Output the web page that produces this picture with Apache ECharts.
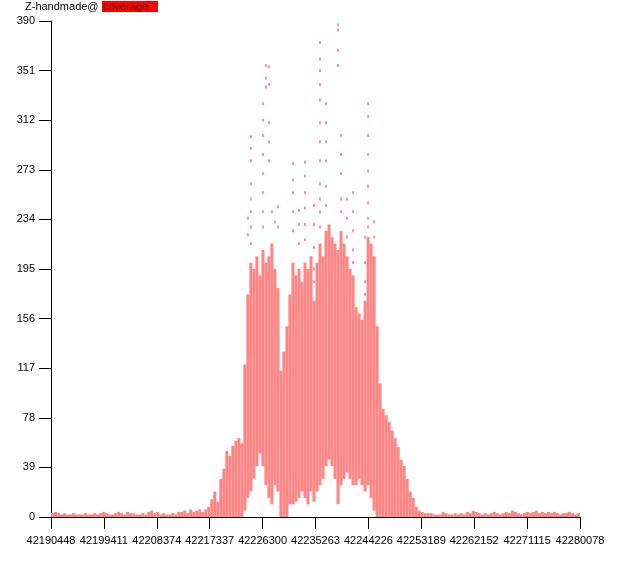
<!DOCTYPE html>
<html>
<head>
<meta charset="utf-8">
<script src="https://cdn.jsdelivr.net/npm/echarts@6/dist/echarts.min.js"></script>
<style>
  html, body { margin: 0; padding: 0; background: #fff; }
  #chart { width: 623px; height: 567px; }
</style>
</head>
<body>
<div id="chart"></div>
<script>
// genomic window shown on the x axis
const START = 42190448;
const END = 42280078;
const STEP = 8963;

// coverage per bin (176 bins across the window): top and bottom of the dense streaks
const covHigh = [
  3, 4, 3, 2, 3, 2, 2, 3, 2, 2,
  2, 3, 2, 2, 3, 2, 3, 4, 3, 2,
  2, 3, 4, 3, 2, 4, 3, 3, 2, 2,
  3, 2, 4, 5, 3, 4, 2, 3, 2, 2,
  3, 2, 4, 4, 5, 3, 6, 4, 5, 6,
  4, 6, 8, 14, 20, 12, 30, 38, 52, 48,
  56, 60, 62, 58, 120, 175, 200, 195, 205, 190,
  210, 200, 205, 215, 195, 180, 115, 130, 150, 175,
  200, 190, 195, 185, 200, 195, 205, 170, 200, 215,
  205, 225, 230, 220, 215, 210, 225, 215, 205, 195,
  190, 165, 160, 155, 170, 220, 215, 205, 150, 105,
  85, 80, 75, 68, 62, 55, 45, 40, 30, 20,
  15, 8, 5, 4, 3, 3,
  3, 2, 2, 2, 4, 3, 2, 2, 3, 2,
  3, 2, 4, 3, 5, 4, 3, 2, 3, 2,
  3, 4, 3, 2, 3, 4, 3, 5, 4, 3,
  2, 3, 4, 3, 4, 5, 3, 4, 3, 4,
  3, 4, 3, 2, 3, 3, 4, 3, 2, 3
];
const covLow = [
  0, 0, 0, 0, 0, 0, 0, 0, 0, 0,
  0, 0, 0, 0, 0, 0, 0, 0, 0, 0,
  0, 0, 0, 0, 0, 0, 0, 0, 0, 0,
  0, 0, 0, 0, 0, 0, 0, 0, 0, 0,
  0, 0, 0, 0, 0, 0, 0, 0, 0, 0,
  0, 0, 0, 0, 0, 0, 0, 0, 0, 0,
  0, 0, 0, 0, 5, 15, 20, 30, 40, 50,
  40, 25, 15, 10, 25, 20, 0, 0, 0, 10,
  10, 12, 15, 20, 15, 10, 20, 12, 20, 25,
  30, 40, 45, 40, 30, 10, 25, 30, 35, 30,
  25, 25, 30, 25, 20, 25, 15, 5, 0, 0,
  0, 0, 0, 0, 0, 0, 0, 0, 0, 0,
  0, 0, 0, 0, 0, 0,
  0, 0, 0, 0, 0, 0, 0, 0, 0, 0,
  0, 0, 0, 0, 0, 0, 0, 0, 0, 0,
  0, 0, 0, 0, 0, 0, 0, 0, 0, 0,
  0, 0, 0, 0, 0, 0, 0, 0, 0, 0,
  0, 0, 0, 0, 0, 0, 0, 0, 0, 0
];

// isolated high reads above the dense area: [bin, coverage]
const sparseDots = [
  [65, 235], [65, 222],
  [66, 299], [66, 290], [66, 280], [66, 262], [66, 250], [66, 240], [66, 228], [66, 215],
  [70, 325], [70, 312], [70, 300], [70, 285], [70, 270], [70, 255], [70, 240], [70, 228],
  [71, 355], [71, 345], [71, 338],
  [72, 354], [72, 340], [72, 310], [72, 295], [72, 280],
  [73, 240], [74, 232], [75, 244], [75, 228],
  [80, 278], [80, 265], [80, 255], [80, 240], [80, 225],
  [82, 241], [82, 230], [82, 215],
  [84, 279], [84, 268], [84, 255], [84, 243], [84, 230], [84, 218],
  [87, 245], [87, 230], [87, 212], [87, 195], [87, 185],
  [89, 373], [89, 360], [89, 351], [89, 340], [89, 328], [89, 310], [89, 295],
  [89, 280], [89, 262], [89, 250], [89, 240], [89, 228],
  [91, 325], [91, 310], [91, 295], [91, 280], [91, 260], [91, 245],
  [95, 387], [95, 383], [95, 367], [95, 355],
  [96, 300], [96, 285], [96, 270], [96, 250], [96, 240],
  [98, 250], [98, 235], [98, 220],
  [100, 255], [100, 240], [100, 225], [100, 210], [100, 200],
  [104, 220], [104, 200], [104, 185], [104, 175],
  [105, 325], [105, 315], [105, 300], [105, 285], [105, 272], [105, 260],
  [105, 247], [105, 235], [105, 228],
  [107, 232], [107, 220]
];

const bins = covHigh.map((_, i) => i);
const covSpan = covHigh.map((h, i) => h - covLow[i]);

const FONT = 'Liberation Sans';
const chart = echarts.init(document.getElementById('chart'));

chart.setOption({
  animation: false,
  backgroundColor: '#ffffff',
  textStyle: { fontFamily: FONT },
  title: {
    text: 'Z-handmade@',
    left: 25,
    top: 1,
    padding: 0,
    textStyle: { fontFamily: FONT, fontSize: 11, fontWeight: 'normal', color: '#000' }
  },
  graphic: [
    {
      type: 'rect',
      left: 102,
      top: 1,
      shape: { width: 56, height: 11 },
      style: { fill: '#ff0000' }
    },
    {
      type: 'text',
      left: 103,
      top: 1,
      style: { text: 'coverage', fill: '#600000', font: '11px "Liberation Sans"' }
    }
  ],
  grid: { left: 51, right: 43, top: 21, bottom: 50 },
  xAxis: [
    {
      type: 'category',
      data: bins,
      show: false,
      boundaryGap: true
    },
    {
      type: 'value',
      min: 0,
      max: END - START,
      interval: STEP,
      position: 'bottom',
      axisLine: { show: true, lineStyle: { color: '#000', width: 1 } },
      axisTick: { show: true, length: 12, lineStyle: { color: '#000' } },
      axisLabel: {
        margin: 18,
        color: '#000',
        fontSize: 11,
        fontFamily: FONT,
        formatter: v => String(v + START)
      },
      splitLine: { show: false }
    }
  ],
  yAxis: {
    type: 'value',
    min: 0,
    max: 390,
    interval: 39,
    axisLine: { show: true, lineStyle: { color: '#000', width: 1 } },
    axisTick: { show: true, length: 12, lineStyle: { color: '#000' } },
    axisLabel: { margin: 16, color: '#000', fontSize: 11, fontFamily: FONT },
    splitLine: { show: false }
  },
  series: [
    {
      type: 'bar',
      xAxisIndex: 0,
      stack: 'cov',
      data: covLow,
      barWidth: '100%',
      itemStyle: { color: 'rgba(0,0,0,0)' },
      silent: true
    },
    {
      name: 'coverage',
      type: 'bar',
      xAxisIndex: 0,
      stack: 'cov',
      data: covSpan,
      barWidth: '100%',
      itemStyle: { color: '#ff8585' }
    },
    {
      type: 'scatter',
      xAxisIndex: 0,
      data: sparseDots,
      symbol: 'rect',
      symbolSize: [2, 3],
      itemStyle: { color: '#f07888' }
    }
  ]
});
</script>
</body>
</html>
